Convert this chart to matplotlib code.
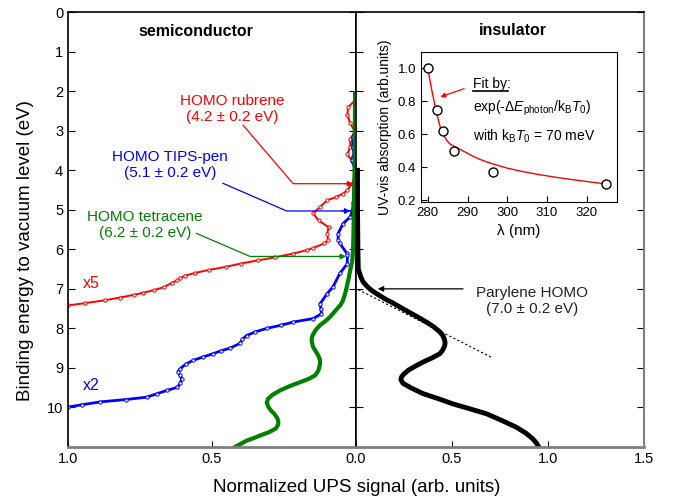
import matplotlib
matplotlib.use("Agg")
import matplotlib.pyplot as plt

plt.rcParams['font.family'] = ['Liberation Sans', 'DejaVu Sans']
plt.rcParams['mathtext.fontset'] = 'custom'
plt.rcParams['mathtext.rm'] = 'Liberation Sans'
plt.rcParams['mathtext.it'] = 'Liberation Sans:italic'

# -------------------------
# Data (signal, binding energy)
# -------------------------
rub_E = [2.23, 2.4, 2.6, 2.81, 3.03, 3.2, 3.41, 3.6, 3.75, 4.0, 4.33, 4.5, 4.59, 4.68,
         4.76, 4.93, 5.09, 5.27, 5.44, 5.6, 5.77, 5.85, 5.97, 6.02, 6.11, 6.2, 6.28,
         6.36, 6.44, 6.52, 6.6, 6.67, 6.73, 6.78, 6.85, 6.95, 7.03, 7.1, 7.15, 7.22,
         7.29, 7.36, 7.42]
rub_S = [0.003, 0.027, 0.03, 0.02, 0.003, 0.02, 0.02, 0.03, 0.015, 0.002, 0.012, 0.03,
         0.045, 0.07, 0.10, 0.125, 0.149, 0.13, 0.095, 0.10, 0.097, 0.11, 0.15, 0.17,
         0.22, 0.28, 0.34, 0.40, 0.45, 0.51, 0.56, 0.595, 0.61, 0.62, 0.64, 0.665,
         0.70, 0.74, 0.77, 0.82, 0.872, 0.94, 1.0]

tips_E = [2.9, 3.16, 3.4, 3.57, 3.75, 4.0, 4.42, 4.84, 5.0, 5.18, 5.35, 5.6, 5.77, 5.85,
          6.1, 6.15, 6.36, 6.61, 6.95, 7.12, 7.38, 7.5, 7.63, 7.75, 7.84, 7.92, 8.0,
          8.09, 8.18, 8.28, 8.38, 8.5, 8.57, 8.64, 8.72, 8.81, 8.9, 9.02, 9.1, 9.18,
          9.27, 9.38, 9.49, 9.57, 9.65, 9.74, 9.8, 9.86, 9.93, 9.99]
tips_S = [0.0, 0.01, 0.012, 0.007, 0.015, 0.0, 0.007, 0.01, 0.012, 0.02, 0.045, 0.062,
          0.062, 0.056, 0.032, 0.03, 0.03, 0.056, 0.08, 0.10, 0.125, 0.122, 0.12, 0.148,
          0.218, 0.26, 0.31, 0.35, 0.38, 0.395, 0.403, 0.438, 0.47, 0.496, 0.53, 0.566,
          0.59, 0.611, 0.618, 0.612, 0.605, 0.61, 0.62, 0.657, 0.69, 0.727, 0.8, 0.889,
          0.95, 1.0]

tet_E = [2.05, 3.0, 4.0, 5.0, 6.0, 6.3, 6.53, 6.75, 6.95, 7.1, 7.29, 7.4, 7.5, 7.6,
         7.71, 7.82, 7.92, 8.02, 8.1, 8.18, 8.26, 8.35, 8.47, 8.6, 8.7, 8.8, 8.89, 8.97,
         9.05, 9.12, 9.19, 9.28, 9.36, 9.46, 9.57, 9.68, 9.78, 9.88, 9.99, 10.08, 10.15,
         10.25, 10.33, 10.43, 10.53, 10.62, 10.71, 10.78, 10.84, 10.92, 11.0]
tet_S = [0.003, 0.004, 0.005, 0.007, 0.01, 0.013, 0.02, 0.026, 0.032, 0.037, 0.045,
         0.053, 0.065, 0.077, 0.09, 0.107, 0.125, 0.138, 0.145, 0.151, 0.154, 0.153,
         0.149, 0.138, 0.13, 0.125, 0.125, 0.127, 0.13, 0.135, 0.142, 0.165, 0.194,
         0.23, 0.264, 0.29, 0.305, 0.31, 0.304, 0.295, 0.285, 0.275, 0.27, 0.27, 0.278,
         0.3, 0.333, 0.357, 0.38, 0.4, 0.42]

par_E = [4.0, 5.0, 6.0, 6.5, 6.7, 6.83, 6.95, 7.05, 7.12, 7.25, 7.35, 7.46, 7.6, 7.72,
         7.84, 7.96, 8.09, 8.18, 8.25, 8.32, 8.38, 8.45, 8.52, 8.58, 8.64, 8.75, 8.85,
         8.94, 9.05, 9.15, 9.23, 9.3, 9.39, 9.5, 9.65, 9.78, 9.91, 10.03, 10.16, 10.33,
         10.5, 10.65, 10.79, 10.9, 11.0]
par_S = [0.008, 0.008, 0.01, 0.012, 0.025, 0.038, 0.06, 0.085, 0.107, 0.15, 0.19, 0.229,
         0.28, 0.325, 0.367, 0.405, 0.437, 0.452, 0.459, 0.463, 0.464, 0.461, 0.455,
         0.447, 0.437, 0.395, 0.35, 0.315, 0.275, 0.25, 0.237, 0.234, 0.245, 0.285,
         0.349, 0.43, 0.505, 0.59, 0.68, 0.76, 0.835, 0.885, 0.92, 0.94, 0.952]

# inset: UV-vis absorption
lam_pts = [280.0, 282.2, 283.8, 286.7, 296.4, 324.8]
abs_pts = [1.0, 0.748, 0.623, 0.50, 0.375, 0.30]
fit_lam = [280.0, 281.0, 282.0, 283.1, 284.0, 284.8, 285.7, 286.7, 288.1, 289.8, 291.5,
           293.5, 295.7, 299.9, 304.0, 308.3, 312.5, 316.6, 320.7, 324.8]
fit_abs = [1.0, 0.869, 0.752, 0.647, 0.595, 0.562, 0.540, 0.527, 0.510, 0.488, 0.466,
           0.445, 0.426, 0.396, 0.374, 0.355, 0.339, 0.325, 0.312, 0.30]

# -------------------------
# Figure & axes
# -------------------------
fig = plt.figure(figsize=(6.76, 5.01), dpi=100)
axL = fig.add_axes([0.1006, 0.1078, 0.426, 0.868])
axR = fig.add_axes([0.5266, 0.1078, 0.426, 0.868], sharey=axL)

gray = '#808080'
for ax in (axL, axR):
    ax.set_ylim(11, 0)
    ax.tick_params(labelsize=10.5, colors='black')
    ax.spines['bottom'].set_color(gray)
    ax.spines['bottom'].set_linewidth(2)
    ax.spines['top'].set_linewidth(1.2)

axL.set_xlim(1.0, 0.0)
axL.set_xticks([1.0, 0.5, 0.0])
axL.set_xticklabels(['1.0', '0.5', '0.0'])
axL.set_yticks(range(0, 11))
axL.tick_params(axis='y', left=True, right=True, direction='in', length=5)
axL.tick_params(axis='x', direction='in', length=4)
axL.spines['left'].set_linewidth(1.2)
axL.spines['right'].set_linewidth(1.2)

axR.set_xlim(0.0, 1.5)
axR.set_xticks([0.0, 0.5, 1.0, 1.5])
axR.set_xticklabels(['', '0.5', '1.0', '1.5'])
axR.tick_params(axis='y', left=True, right=True, labelleft=False, direction='in', length=5)
axR.tick_params(axis='x', direction='in', length=4)
axR.spines['right'].set_color(gray)
axR.spines['right'].set_linewidth(1.5)
axR.spines['left'].set_linewidth(1.2)

# -------------------------
# Curves
# -------------------------
axL.plot(rub_S, rub_E, color='red', lw=1.4, marker='o', ms=2.4, mfc='white', mew=0.7)
axL.plot(tips_S, tips_E, color='blue', lw=2.0, marker='o', ms=2.4, mfc='white', mew=0.7)
axL.plot(tet_S, tet_E, color='green', lw=3)
axR.plot(par_S, par_E, color='black', lw=3.5)
axR.plot([0.012, 0.705], [7.02, 8.73], color='black', lw=0.8, ls=(0, (2, 2)))

# -------------------------
# Annotations
# -------------------------
axL.text(0.555, 0.5, 'semiconductor', fontsize=11.5, fontweight='bold', ha='center', va='center')
axR.text(0.815, 0.46, 'insulator', fontsize=11.5, fontweight='bold', ha='center', va='center')

axL.text(0.43, 2.45, 'HOMO rubrene\n(4.2 \u00b1 0.2 eV)', color='red', fontsize=11,
         ha='center', va='center', linespacing=1.2)
axL.plot([0.392, 0.218, 0.01], [2.86, 4.34, 4.34], color='red', lw=0.9)
axL.annotate('', xy=(0.0, 4.34), xytext=(0.05, 4.34),
             arrowprops=dict(arrowstyle='-|>', color='red', lw=0.9, mutation_scale=8))

axL.text(0.645, 3.87, 'HOMO TIPS-pen\n(5.1 \u00b1 0.2 eV)', color='blue', fontsize=11,
         ha='center', va='center', linespacing=1.2)
axL.plot([0.462, 0.241, 0.02], [4.33, 5.03, 5.03], color='blue', lw=0.9)
axL.annotate('', xy=(0.01, 5.03), xytext=(0.06, 5.03),
             arrowprops=dict(arrowstyle='-|>', color='blue', lw=0.9, mutation_scale=8))

axL.text(0.733, 5.38, 'HOMO tetracene\n(6.2 \u00b1 0.2 eV)', color='green', fontsize=11,
         ha='center', va='center', linespacing=1.2)
axL.plot([0.553, 0.368, 0.04], [5.6, 6.18, 6.18], color='green', lw=0.9)
axL.annotate('', xy=(0.025, 6.18), xytext=(0.075, 6.18),
             arrowprops=dict(arrowstyle='-|>', color='green', lw=0.9, mutation_scale=8))

axL.text(0.92, 6.87, 'x5', color='red', fontsize=11.5, ha='center', va='center')
axL.text(0.92, 9.44, 'x2', color='blue', fontsize=11.5, ha='center', va='center')

axR.text(0.915, 7.3, 'Parylene HOMO\n(7.0 \u00b1 0.2 eV)', color='#222222', fontsize=11,
         ha='center', va='center', linespacing=1.2)
axR.annotate('', xy=(0.099, 7.0), xytext=(0.572, 7.0),
             arrowprops=dict(arrowstyle='-|>', color='black', lw=0.9, mutation_scale=8))

fig.text(0.527, 0.026, 'Normalized UPS signal (arb. units)', fontsize=13.5, ha='center', va='center')
fig.text(0.037, 0.5, 'Binding energy to vacuum level (eV)', fontsize=13.5, ha='center',
         va='center', rotation=90)

# -------------------------
# Inset
# -------------------------
axI = fig.add_axes([0.6228, 0.5968, 0.29, 0.2994])
axI.plot(fit_lam, fit_abs, color='red', lw=1)
axI.plot(lam_pts, abs_pts, ls='none', marker='o', ms=6.5, mfc='white', mec='black', mew=1)
axI.set_xlim(278.3, 327.6)
axI.set_ylim(0.19, 1.1)
axI.set_xticks([280, 290, 300, 310, 320])
axI.set_yticks([0.2, 0.4, 0.6, 0.8, 1.0])
axI.set_yticklabels(['0.2', '0.4', '0.6', '0.8', '1.0'])
axI.tick_params(direction='in', length=4, labelsize=9.5)
axI.set_xlabel('\u03bb (nm)', fontsize=11, labelpad=4)
axI.set_ylabel('UV-vis absorption (arb.units)', fontsize=10, labelpad=4)

axI.text(291.3, 0.905, 'Fit by:', fontsize=10, va='center', ha='left')
axI.plot([291.3, 300.2], [0.865, 0.865], color='black', lw=1.2)
axI.annotate('', xy=(282.5, 0.822), xytext=(289.8, 0.883),
             arrowprops=dict(arrowstyle='-|>', color='red', lw=0.9, mutation_scale=7))
axI.text(291.3, 0.758, r'exp(-$\Delta\mathit{E}_{\rm photon}$/k$_{\rm B}$$\mathit{T}_{\rm 0}$)',
         fontsize=10, va='center', ha='left')
axI.text(291.3, 0.59, r'with k$_{\rm B}$$\mathit{T}_{\rm 0}$ = 70 meV', fontsize=10,
         va='center', ha='left')

plt.savefig('out.png', dpi=100)
